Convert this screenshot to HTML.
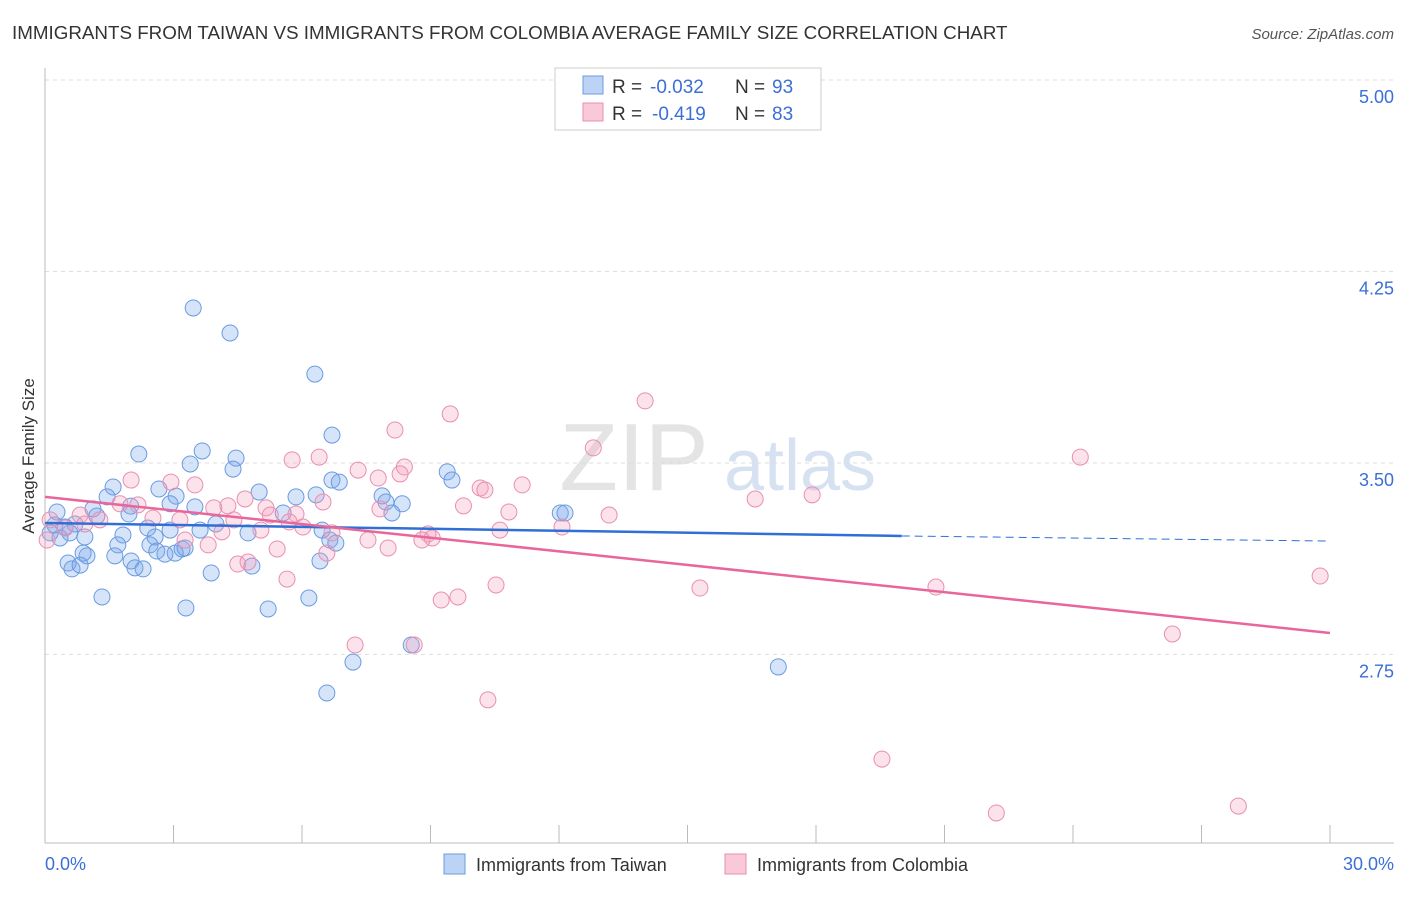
<!DOCTYPE html>
<html><head><meta charset="utf-8"><style>
body{margin:0;background:#fff;font-family:"Liberation Sans",sans-serif;}
svg text{font-family:"Liberation Sans",sans-serif;}
</style></head><body>
<svg id="chart" width="1406" height="892" xmlns="http://www.w3.org/2000/svg">
<text x="12" y="39" font-size="18.8" fill="#333">IMMIGRANTS FROM TAIWAN VS IMMIGRANTS FROM COLOMBIA AVERAGE FAMILY SIZE CORRELATION CHART</text>
<text x="1394" y="39" font-size="15" fill="#555" font-style="italic" text-anchor="end">Source: ZipAtlas.com</text>
<text x="634" y="490" font-size="96" fill="#e4e4e4" font-family="Liberation Serif" text-anchor="middle">ZIP</text>
<text x="800" y="490" font-size="72" fill="#d6e2f2" text-anchor="middle">atlas</text>
<g id="grid"></g><g id="axes"></g><g id="pts"></g><g id="trends"></g>
<text transform="translate(34,456) rotate(-90)" font-size="17" fill="#333" text-anchor="middle">Average Family Size</text>
<g>
<rect x="555" y="68" width="266" height="62" fill="#fff" stroke="#ccc"/>
<rect x="583" y="76" width="20" height="18" fill="#bcd3f5" stroke="#6a9be0"/>
<rect x="583" y="103" width="20" height="18" fill="#f9c9d8" stroke="#e88fb0"/>
<text x="612" y="93" font-size="19" fill="#333">R =</text>
<text x="650" y="93" font-size="19" fill="#3b6fd8">-0.032</text>
<text x="735" y="93" font-size="19" fill="#333">N =</text>
<text x="772" y="93" font-size="19" fill="#3b6fd8">93</text>
<text x="612" y="120" font-size="19" fill="#333">R =</text>
<text x="652" y="120" font-size="19" fill="#3b6fd8">-0.419</text>
<text x="735" y="120" font-size="19" fill="#333">N =</text>
<text x="772" y="120" font-size="19" fill="#3b6fd8">83</text>
</g>
<g>
<rect x="444" y="854" width="21" height="20" fill="#bcd3f5" stroke="#6a9be0"/>
<text x="476" y="871" font-size="18" fill="#333">Immigrants from Taiwan</text>
<rect x="725" y="854" width="21" height="20" fill="#f9c9d8" stroke="#e88fb0"/>
<text x="757" y="871" font-size="18" fill="#333">Immigrants from Colombia</text>
</g>
<text x="45" y="870" font-size="18" fill="#3b6fd8">0.0%</text>
<text x="1394" y="870" font-size="18" fill="#3b6fd8" text-anchor="end">30.0%</text>
</svg>
<script>
const yTicks=[5.00,4.25,3.50,2.75];
const yTickLabels=["5.00","4.25","3.50","2.75"];
const xTicks=[0,3,6,9,12,15,18,21,24,27,30];
const taiwanX=[3.46,4.32,6.30,6.70,2.19,3.67,4.46,3.39,4.39,9.39,6.70,6.87,9.50,1.59,2.66,5.00,3.06,1.45,5.86,6.33,7.87,8.34,2.92,3.50,1.12,2.00,12.03,12.14,7.96,8.10,5.56,1.96,1.21,0.28,0.70,0.23,0.47,0.35,0.93,0.12,0.58,3.99,4.74,3.62,2.40,2.92,2.57,1.82,1.70,6.47,6.65,6.79,2.45,2.61,3.04,3.20,3.27,1.63,0.98,0.89,0.54,0.63,0.82,2.01,2.10,2.29,2.80,4.83,6.42,3.88,1.33,6.16,3.29,5.21,8.55,7.19,6.58,17.12];
const taiwanY=[4.107,4.009,3.848,3.609,3.535,3.547,3.519,3.496,3.476,3.465,3.433,3.425,3.433,3.406,3.398,3.386,3.370,3.367,3.367,3.375,3.371,3.340,3.340,3.328,3.320,3.331,3.304,3.304,3.347,3.304,3.304,3.300,3.292,3.308,3.261,3.257,3.249,3.206,3.210,3.226,3.226,3.261,3.226,3.237,3.245,3.237,3.210,3.218,3.179,3.237,3.198,3.186,3.179,3.155,3.147,3.163,3.167,3.136,3.136,3.147,3.108,3.085,3.100,3.116,3.089,3.085,3.143,3.096,3.116,3.069,2.975,2.971,2.932,2.928,2.787,2.720,2.599,2.701];
const colombiaX=[14.01,9.46,8.17,12.80,24.17,5.77,6.40,8.39,7.31,7.78,8.29,2.01,2.94,3.50,11.14,10.16,10.27,17.91,16.58,6.49,4.67,1.75,2.17,4.27,5.16,9.77,10.83,13.17,7.82,3.94,0.82,1.28,2.52,3.15,4.41,5.26,5.86,5.70,6.02,6.70,0.12,0.47,10.62,12.07,8.94,9.04,8.80,7.54,5.04,4.13,3.27,3.81,5.42,8.01,6.58,4.50,4.74,5.65,29.77,10.53,15.29,20.80,9.64,9.25,26.32,7.24,8.62,10.34,19.54,22.21,27.86,0.93,0.05];
const colombiaY=[3.743,3.692,3.629,3.559,3.523,3.512,3.523,3.484,3.472,3.441,3.457,3.433,3.425,3.414,3.414,3.402,3.394,3.375,3.359,3.347,3.359,3.340,3.336,3.332,3.324,3.332,3.308,3.296,3.320,3.324,3.296,3.277,3.284,3.277,3.277,3.296,3.300,3.269,3.249,3.226,3.277,3.245,3.237,3.249,3.222,3.206,3.198,3.198,3.237,3.230,3.198,3.179,3.163,3.167,3.147,3.104,3.112,3.045,3.057,3.022,3.010,3.014,2.975,2.963,2.830,2.787,2.787,2.572,2.340,2.129,2.156,3.261,3.198];
const taiwanTrend=[3.265,3.214,3.194]; // y at 0%, 20%, 30%
const colombiaTrend=[3.367,2.834]; // y at 0%, 30%
const X=v=>45+v/30*1285, Y=v=>80+(5-v)*255.3;
const NS="http://www.w3.org/2000/svg";
function mk(tag,attrs,parent){const e=document.createElementNS(NS,tag);for(const k in attrs)e.setAttribute(k,attrs[k]);document.getElementById(parent).appendChild(e);return e;}
yTicks.forEach((t,i)=>{
 const l=mk('line',{x1:45,x2:1394,y1:Y(t),y2:Y(t),stroke:'#ddd','stroke-dasharray':'4,4'},'grid');
 
 
 const tx=mk('text',{x:1394,y:Y(t)+23,'font-size':18,fill:'#3b6fd8','text-anchor':'end'},'grid');
 tx.textContent=yTickLabels[i];
 
 
});
const ya=mk('line',{x1:45,x2:45,y1:68,y2:843,stroke:'#bbb'},'axes');


const xa=mk('line',{x1:45,x2:1394,y1:843,y2:843,stroke:'#bbb'},'axes');


xTicks.forEach(t=>{
 const l=mk('line',{x1:X(t),x2:X(t),y1:825,y2:843,stroke:'#bbb'},'axes');
 
 
});
taiwanX.forEach((v,i)=>{
 const c=mk('circle',{cx:X(v),cy:Y(taiwanY[i]),r:8,fill:'rgba(120,165,235,0.3)',stroke:'#6a9be0','stroke-width':1},'pts');
 
 
});
colombiaX.forEach((v,i)=>{
 const c=mk('circle',{cx:X(v),cy:Y(colombiaY[i]),r:8,fill:'rgba(245,160,190,0.3)',stroke:'#e88fb0','stroke-width':1},'pts');
 
 
});
const t1=mk('line',{x1:X(0),y1:Y(taiwanTrend[0]),x2:X(20),y2:Y(taiwanTrend[1]),stroke:'#2f6fd6','stroke-width':2.5},'trends');


const t2=mk('line',{x1:X(20),y1:Y(taiwanTrend[1]),x2:X(30),y2:Y(taiwanTrend[2]),stroke:'#2f6fd6','stroke-width':1,'stroke-dasharray':'8,5'},'trends');


const t3=mk('line',{x1:X(0),y1:Y(colombiaTrend[0]),x2:X(30),y2:Y(colombiaTrend[1]),stroke:'#e8679a','stroke-width':2.5},'trends');


</script>
</body></html>
